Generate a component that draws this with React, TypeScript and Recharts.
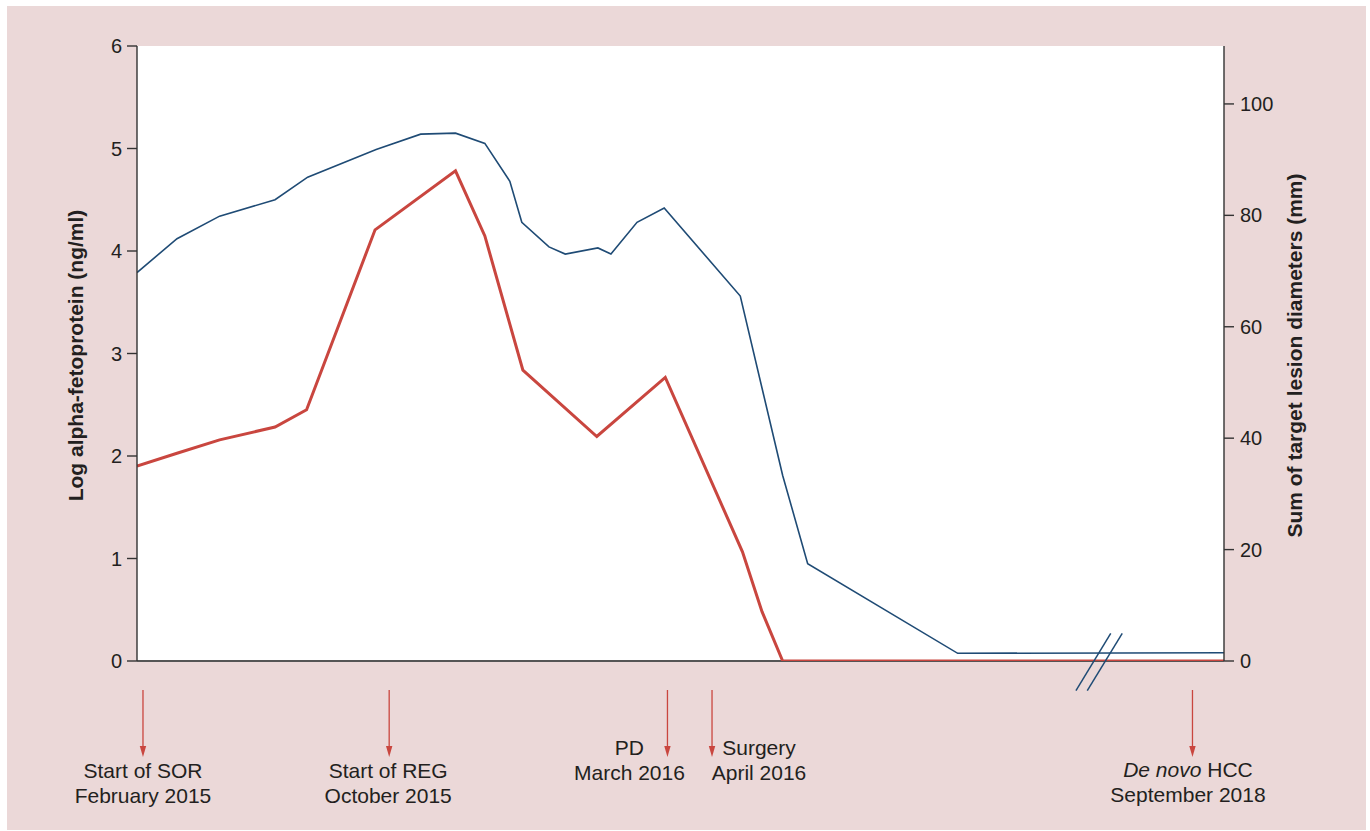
import React from 'react';
import { LineChart, Line, XAxis, YAxis, CartesianGrid, ReferenceLine, Label } from 'recharts';

// ---- data ----
// timeline position (0-100 across the plotted period; axis is broken near the end)
const afpT = [0, 3.68, 7.6, 12.7, 15.7, 22.0, 26.1, 29.3, 32.0, 34.3, 35.4, 37.9, 39.4, 42.4, 43.6, 46.0, 48.5, 55.5, 59.4, 61.7, 75.5, 100];
const afpLog = [3.79, 4.12, 4.34, 4.5, 4.72, 4.99, 5.14, 5.15, 5.05, 4.68, 4.28, 4.04, 3.97, 4.03, 3.97, 4.28, 4.42, 3.56, 1.81, 0.95, 0.075, 0.081];
const lesionT = [0, 3.68, 7.6, 12.7, 15.6, 21.9, 29.3, 32.0, 35.5, 42.3, 48.6, 55.7, 57.5, 59.4, 100];
const lesionMm = [35.0, 37.3, 39.7, 42.0, 45.1, 77.4, 88.0, 76.3, 52.2, 40.3, 50.9, 19.6, 8.85, 0, 0];

const leftTicks = [0, 1, 2, 3, 4, 5, 6];
const rightTicks = [0, 20, 40, 60, 80, 100];

const eventT = [0.55, 23.2, 48.8, 52.9, 97.1];
const eventLine1Italic = ['', '', '', '', 'De novo'];
const eventLine1 = ['Start of SOR', 'Start of REG', 'PD', 'Surgery', 'HCC'];
const eventLine2 = ['February 2015', 'October 2015', 'March 2016', 'April 2016', 'September 2018'];

// axis break marks (timeline position, log AFP units)
const breakMarks = [
  [{ x: 89.58, y: 0.27 }, { x: 86.38, y: -0.29 }],
  [{ x: 90.64, y: 0.27 }, { x: 87.42, y: -0.29 }],
];

// ---- style ----
const RED = '#c9463f';
const BLUE = '#1f4b75';
const PINK = '#ebd8d8';
const FONT = '"Liberation Sans", Arial, Helvetica, sans-serif';
const eventTextDx = [0, -1, -38, 47, -4.5];
const eventTextDy = [117, 117, 94, 94, 116];

const afpData = afpT.map((t, i) => ({ t, v: afpLog[i] }));
const lesionData = lesionT.map((t, i) => ({ t, v: lesionMm[i] }));

const EventTick = (props: any) => {
  const { x, y, payload } = props;
  const i = eventT.findIndex((e) => Math.abs(e - payload.value) < 1e-6);
  if (i < 0) return null;
  const dx = eventTextDx[i];
  const dy = eventTextDy[i];
  return (
    <g>
      <line x1={x} x2={x} y1={y + 29} y2={y + 87} stroke={RED} strokeWidth={1.3} />
      <path d={`M${x - 3.2},${y + 85} L${x + 3.2},${y + 85} L${x},${y + 96} Z`} fill={RED} />
      <text x={x + dx} y={y + dy} textAnchor="middle" fontSize={21} fill="#231f20" fontFamily={FONT}>
        {eventLine1Italic[i] ? <tspan fontStyle="italic">{eventLine1Italic[i] + ' '}</tspan> : null}
        <tspan>{eventLine1[i]}</tspan>
      </text>
      <text x={x + dx} y={y + dy + 24.5} textAnchor="middle" fontSize={21} fill="#231f20" fontFamily={FONT}>
        {eventLine2[i]}
      </text>
    </g>
  );
};

const LeftTitle = (props: any) => {
  const vb = props.viewBox || {};
  const cx = vb.x + 6;
  const cy = vb.y + vb.height / 2 + 2;
  return (
    <text x={cx} y={cy} transform={`rotate(-90, ${cx}, ${cy})`} textAnchor="middle" fontSize={21} fontWeight="bold" fill="#231f20" fontFamily={FONT}>
      Log alpha-fetoprotein (ng/ml)
    </text>
  );
};

const RightTitle = (props: any) => {
  const vb = props.viewBox || {};
  const cx = vb.x + 78;
  const cy = vb.y + vb.height / 2 + 2;
  return (
    <text x={cx} y={cy} transform={`rotate(-90, ${cx}, ${cy})`} textAnchor="middle" fontSize={21} fontWeight="bold" fill="#231f20" fontFamily={FONT}>
      Sum of target lesion diameters (mm)
    </text>
  );
};

export default function App() {
  return (
    <div>
      <style>{`body{margin:0;}`}</style>
      <div style={{ position: 'absolute', left: 7, top: 6, width: 1359, height: 824, background: PINK }}>
        <LineChart width={1359} height={824} margin={{ top: 40, right: 62, bottom: 29, left: 70 }}>
          <CartesianGrid fill="#ffffff" horizontal={false} vertical={false} />
          <XAxis
            type="number"
            dataKey="t"
            domain={[0, 100]}
            ticks={eventT}
            interval={0}
            tick={<EventTick />}
            tickLine={false}
            tickSize={0}
            tickMargin={0}
            height={140}
            axisLine={false}
            allowDataOverflow
          />
          <YAxis
            yAxisId="left"
            orientation="left"
            domain={[0, 6]}
            ticks={leftTicks}
            interval={0}
            width={60}
            tickSize={10}
            tickMargin={5}
            axisLine={{ stroke: '#333', strokeWidth: 1.4 }}
            tickLine={{ stroke: '#333', strokeWidth: 1.4 }}
            tick={{ fontSize: 20, fill: '#231f20', fontFamily: FONT }}
            allowDataOverflow
          >
            <Label content={<LeftTitle />} />
          </YAxis>
          <YAxis
            yAxisId="right"
            orientation="right"
            domain={[0, 110.4]}
            ticks={rightTicks}
            interval={0}
            width={80}
            tickSize={10}
            tickMargin={6}
            axisLine={{ stroke: '#333', strokeWidth: 1.4 }}
            tickLine={{ stroke: '#333', strokeWidth: 1.4 }}
            tick={{ fontSize: 20, fill: '#231f20', fontFamily: FONT }}
            allowDataOverflow
          >
            <Label content={<RightTitle />} />
          </YAxis>
          <ReferenceLine yAxisId="left" y={0} stroke="#555" strokeWidth={2} ifOverflow="visible" />
          <Line
            yAxisId="left"
            data={afpData}
            dataKey="v"
            type="linear"
            stroke={BLUE}
            strokeWidth={1.6}
            dot={false}
            activeDot={false}
            isAnimationActive={false}
          />
          <Line
            yAxisId="right"
            data={lesionData}
            dataKey="v"
            type="linear"
            stroke={RED}
            strokeWidth={3}
            dot={false}
            activeDot={false}
            isAnimationActive={false}
          />
          {breakMarks.map((seg, k) => (
            <ReferenceLine
              key={k}
              yAxisId="left"
              segment={seg}
              stroke={BLUE}
              strokeWidth={1.5}
              ifOverflow="visible"
            />
          ))}
        </LineChart>
      </div>
    </div>
  );
}
